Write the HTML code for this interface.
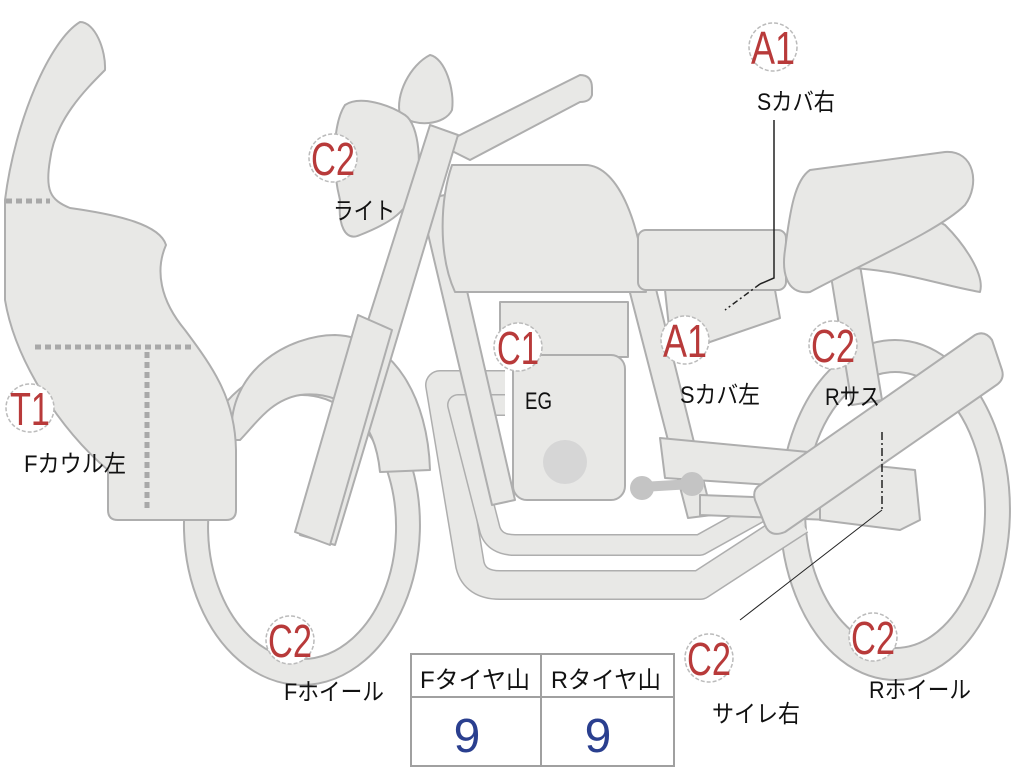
<!DOCTYPE html>
<html><head><meta charset="utf-8"><style>
html,body{margin:0;padding:0;background:#fff;}
svg{display:block;}
.b{fill:#e8e8e6;stroke:#aeaeae;stroke-width:2;stroke-linejoin:round;}
.lab{font-family:"Liberation Sans","Noto Sans CJK JP",sans-serif;font-size:24px;fill:#111;}
.bd{font-family:"Liberation Sans",sans-serif;font-size:46px;fill:#b83a3a;text-anchor:middle;}
</style></head><body>
<svg width="1024" height="768" viewBox="0 0 1024 768" xmlns="http://www.w3.org/2000/svg">
<!-- rear wheel -->
<path class="b" fill-rule="evenodd" d="M895,340 A115,170 0 1,1 894.9,340 Z M895,372 A90,138 0 1,0 895.1,372 Z"/>
<!-- front wheel -->
<path class="b" fill-rule="evenodd" d="M302,365 A118,160 0 1,1 301.9,365 Z M302,395 A94,132 0 1,0 302.1,395 Z"/>
<!-- front fender -->
<path class="b" d="M232,440 C225,370 290,335 335,335 C395,337 428,400 430,470 L380,472 C375,420 345,390 300,395 C270,400 255,425 240,440 Z"/>
<!-- exhaust pipes -->
<path d="M505,385 L440,385 L470,565 Q475,585 500,585 L700,585 L800,520" fill="none" stroke="#aeaeae" stroke-width="30" stroke-linejoin="round"/>
<path d="M505,385 L440,385 L470,565 Q475,585 500,585 L700,585 L800,520" fill="none" stroke="#e8e8e6" stroke-width="27" stroke-linejoin="round"/>
<path d="M505,405 L458,405 L490,530 Q495,545 515,545 L700,545 L790,495" fill="none" stroke="#aeaeae" stroke-width="22" stroke-linejoin="round"/>
<path d="M505,405 L458,405 L490,530 Q495,545 515,545 L700,545 L790,495" fill="none" stroke="#e8e8e6" stroke-width="19" stroke-linejoin="round"/>
<!-- frame tubes -->
<polygon class="b" points="420,200 445,195 515,500 492,505"/>
<polygon class="b" points="628,285 655,285 712,515 688,518"/>
<!-- swingarm -->
<polygon class="b" points="660,438 840,455 845,490 665,478"/>
<polygon class="b" points="700,495 830,500 830,520 700,515"/>
<!-- engine -->
<rect class="b" x="500" y="302" width="128" height="55"/>
<rect class="b" x="513" y="355" width="112" height="145" rx="14"/>
<circle cx="565" cy="462" r="22" fill="#d6d6d6"/>
<!-- footpeg -->
<line x1="642" y1="487" x2="692" y2="484" stroke="#c4c4c4" stroke-width="10"/>
<circle cx="642" cy="488" r="12" fill="#c4c4c4"/>
<circle cx="692" cy="484" r="12" fill="#c4c4c4"/>
<!-- tank -->
<path class="b" d="M452,165 L585,165 C620,165 642,230 646,292 L455,292 C438,255 440,200 452,165 Z"/>
<!-- side cover -->
<polygon class="b" points="665,290 775,290 780,318 672,355"/>
<!-- mid seat -->
<rect class="b" x="638" y="230" width="148" height="60" rx="8"/>
<!-- rear suspension -->
<polygon class="b" points="830,270 860,265 882,400 852,405"/>
<!-- tail -->
<path class="b" d="M850,240 C900,225 930,215 945,225 C965,245 985,275 980,292 C940,285 900,270 850,268 Z"/>
<!-- rear seat -->
<path class="b" d="M810,170 L945,152 C975,150 980,185 965,205 C940,230 870,260 810,292 C785,295 782,270 785,250 C790,210 795,180 810,170 Z"/>
<!-- rear swing piece -->
<polygon class="b" points="820,460 915,470 920,520 900,530 820,520"/>
<!-- muffler -->
<path class="b" d="M760,485 L975,335 Q985,330 992,340 L1002,370 Q1005,380 995,386 L785,532 Q770,538 765,525 L755,500 Q752,490 760,485 Z"/>
<!-- fairing -->
<path class="b" d="M80,22 C95,22 106,50 105,70 C85,90 55,120 50,160 C45,190 50,200 70,208 C120,215 160,225 166,245 C155,270 160,300 185,330 C215,370 235,400 236,450 L236,510 Q236,520 226,520 L118,520 Q108,520 108,510 L108,470 C60,430 15,360 5,300 L5,200 C15,120 50,40 80,22 Z"/>
<g stroke="#a8a8a8" stroke-width="5" stroke-dasharray="6,4" fill="none">
<line x1="6" y1="201" x2="50" y2="201"/>
<line x1="35" y1="347" x2="192" y2="347"/>
<line x1="147" y1="352" x2="147" y2="512"/>
</g>
<!-- handlebar -->
<path class="b" d="M440,145 L580,75 Q592,75 592,88 L592,95 Q590,102 580,102 L470,160 Z"/>
<!-- mirror -->
<path class="b" d="M430,55 C445,58 455,90 452,110 C445,125 415,128 400,115 C395,95 410,65 430,55 Z"/>
<!-- headlight -->
<path class="b" d="M345,105 C360,95 390,105 405,115 C420,125 422,170 415,190 C405,215 385,225 360,235 C345,242 338,225 340,200 C330,160 335,120 345,105 Z"/>
<!-- fork upper -->
<polygon class="b" points="430,125 458,135 335,545 300,535"/>
<!-- fork lower -->
<polygon class="b" points="358,315 392,330 330,545 295,532"/>
<!-- leader lines -->
<polyline points="774,120 774,278 760,284" fill="none" stroke="#222" stroke-width="1.5"/>
<line x1="760" y1="284" x2="725" y2="310" stroke="#222" stroke-width="1.5" stroke-dasharray="6,3,2,3"/>
<line x1="882" y1="432" x2="882" y2="510" stroke="#222" stroke-width="1.5" stroke-dasharray="8,3,2,3"/>
<line x1="882" y1="510" x2="740" y2="620" stroke="#222" stroke-width="1"/>
<!-- badges -->
<g fill="#fff" stroke="#bbb" stroke-width="1.5" stroke-dasharray="4,2">
<circle cx="773" cy="47" r="24"/>
<circle cx="333" cy="158" r="24"/>
<circle cx="518" cy="347" r="24"/>
<circle cx="685" cy="340" r="24"/>
<circle cx="833" cy="345" r="24"/>
<circle cx="30" cy="408" r="24"/>
<circle cx="290" cy="640" r="24"/>
<circle cx="709" cy="658" r="24"/>
<circle cx="873" cy="637" r="24"/>
</g>
<g class="bd" lengthAdjust="spacingAndGlyphs">
<text x="773" y="64" textLength="44" lengthAdjust="spacingAndGlyphs">A1</text>
<text x="333" y="175" textLength="44" lengthAdjust="spacingAndGlyphs">C2</text>
<text x="518" y="364" textLength="42" lengthAdjust="spacingAndGlyphs">C1</text>
<text x="685" y="357" textLength="44" lengthAdjust="spacingAndGlyphs">A1</text>
<text x="833" y="362" textLength="44" lengthAdjust="spacingAndGlyphs">C2</text>
<text x="30" y="425" textLength="40" lengthAdjust="spacingAndGlyphs">T1</text>
<text x="290" y="657" textLength="44" lengthAdjust="spacingAndGlyphs">C2</text>
<text x="709" y="675" textLength="44" lengthAdjust="spacingAndGlyphs">C2</text>
<text x="873" y="654" textLength="44" lengthAdjust="spacingAndGlyphs">C2</text>
</g>
<g class="lab">
<text x="757" y="110" textLength="78" lengthAdjust="spacingAndGlyphs">Sカバ右</text>
<text x="333" y="219" textLength="62" lengthAdjust="spacingAndGlyphs">ライト</text>
<text x="525" y="409" textLength="27" lengthAdjust="spacingAndGlyphs">EG</text>
<text x="680" y="403" textLength="80" lengthAdjust="spacingAndGlyphs">Sカバ左</text>
<text x="825" y="405" textLength="55" lengthAdjust="spacingAndGlyphs">Rサス</text>
<text x="24" y="472" textLength="102" lengthAdjust="spacingAndGlyphs">Fカウル左</text>
<text x="284" y="700" textLength="100" lengthAdjust="spacingAndGlyphs">Fホイール</text>
<text x="712" y="722" textLength="88" lengthAdjust="spacingAndGlyphs">サイレ右</text>
<text x="869" y="698" textLength="102" lengthAdjust="spacingAndGlyphs">Rホイール</text>
</g>
<!-- table -->
<rect x="411" y="654" width="263" height="112" fill="#fff" stroke="#a0a0a0" stroke-width="2"/>
<line x1="411" y1="697" x2="674" y2="697" stroke="#a0a0a0" stroke-width="2"/>
<line x1="541" y1="654" x2="541" y2="766" stroke="#a0a0a0" stroke-width="2"/>
<text class="lab" x="420" y="688" textLength="110" lengthAdjust="spacingAndGlyphs">Fタイヤ山</text>
<text class="lab" x="551" y="688" textLength="110" lengthAdjust="spacingAndGlyphs">Rタイヤ山</text>
<text x="467" y="752" text-anchor="middle" font-family="Liberation Sans,sans-serif" font-size="48" fill="#2a3f8f">9</text>
<text x="598" y="752" text-anchor="middle" font-family="Liberation Sans,sans-serif" font-size="48" fill="#2a3f8f">9</text>
</svg>
</body></html>
